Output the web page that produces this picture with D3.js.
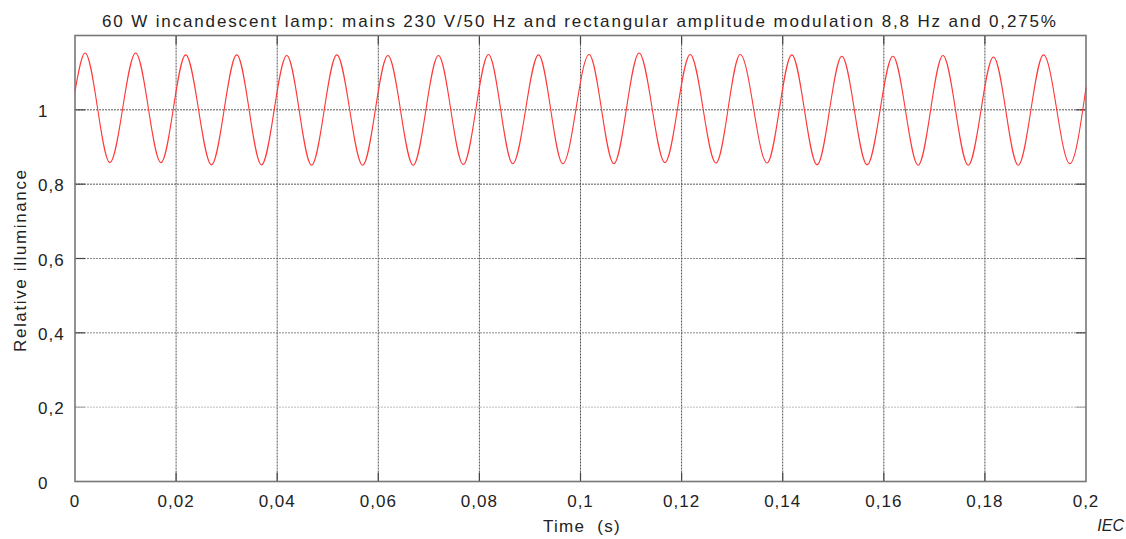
<!DOCTYPE html>
<html><head><meta charset="utf-8">
<script src="https://cdn.jsdelivr.net/npm/d3@7/dist/d3.min.js"></script>
<style>body{margin:0;background:#fff}</style>
</head><body><svg id="c" width="1126" height="539"></svg>
<script>
const titleText = "60 W incandescent lamp: mains 230 V/50 Hz and rectangular amplitude modulation 8,8 Hz and 0,275%";
const xLabel = "Time  (s)";
const yLabel = "Relative illuminance";
const xTicks = [0,0.02,0.04,0.06,0.08,0.1,0.12,0.14,0.16,0.18,0.2];
const xTickLabels = ["0","0,02","0,04","0,06","0,08","0,1","0,12","0,14","0,16","0,18","0,2"];
const yTicks = [0,0.2,0.4,0.6,0.8,1];
const yTickLabels = ["0","0,2","0,4","0,6","0,8","1"];
const peakTimes = [0.0020,0.0120,0.0219,0.0320,0.0419,0.0518,0.0619,0.0719,0.0818,0.0917,0.1017,0.1116,0.1217,0.1316,0.1418,0.1517,0.1618,0.1717,0.1817,0.1916];
const peakValues = [1.153,1.153,1.148,1.148,1.146,1.148,1.146,1.146,1.149,1.148,1.149,1.153,1.149,1.149,1.148,1.144,1.144,1.146,1.142,1.148];
const troughTimes = [0.0069,0.0170,0.0270,0.0369,0.0468,0.0569,0.0669,0.0768,0.0866,0.0965,0.1066,0.1167,0.1268,0.1369,0.1468,0.1567,0.1668,0.1767,0.1866,0.1968];
const troughValues = [0.858,0.858,0.852,0.852,0.851,0.851,0.851,0.853,0.855,0.855,0.855,0.858,0.857,0.857,0.852,0.852,0.851,0.851,0.851,0.855];
const startPoint = [0, 1.05];
const endPoint = [0.2, 1.06];

const svg = d3.select("#c");
const x = d3.scaleLinear().domain([0,0.2]).range([75,1086]);
const y = d3.scaleLinear().domain([0,1.2]).range([481.5,35.5]);
const font = "'Liberation Sans', Arial, sans-serif";

// grid
const hGridColor = v => v >= 0.8 ? "#555" : v >= 0.4 ? "#888" : "#bbb";
svg.append("g").selectAll("line").data(yTicks.filter(v=>v>0)).join("line")
  .attr("x1",x(0)).attr("x2",x(0.2)).attr("y1",d=>y(d)).attr("y2",d=>y(d))
  .attr("stroke",d=>hGridColor(d)).attr("stroke-width",1).attr("stroke-dasharray","2,1");
svg.append("g").selectAll("line").data(xTicks.filter(v=>v>0 && v<0.2)).join("line")
  .attr("y1",y(0)).attr("y2",y(1.2)).attr("x1",d=>x(d)).attr("x2",d=>x(d))
  .attr("stroke","#555").attr("stroke-width",1).attr("stroke-dasharray","2,1");

// inward ticks
const tk = svg.append("g").attr("stroke","#444").attr("stroke-width",1.2);
xTicks.filter(v=>v>0 && v<0.2).forEach(v=>{
  tk.append("line").attr("x1",x(v)).attr("x2",x(v)).attr("y1",y(0)).attr("y2",y(0)-9);
  tk.append("line").attr("x1",x(v)).attr("x2",x(v)).attr("y1",y(1.2)).attr("y2",y(1.2)+9);
});
yTicks.filter(v=>v>0).forEach(v=>{
  tk.append("line").attr("x1",x(0)).attr("x2",x(0)+10).attr("y1",y(v)).attr("y2",y(v)).attr("stroke", v>=0.4?"#444":"#aaa");
  tk.append("line").attr("x1",x(0.2)).attr("x2",x(0.2)-10).attr("y1",y(v)).attr("y2",y(v)).attr("stroke", v>=0.4?"#444":"#aaa");
});

// frame
svg.append("rect").attr("x",x(0)).attr("y",y(1.2)).attr("width",x(0.2)-x(0)).attr("height",y(0)-y(1.2))
  .attr("fill","none").attr("stroke","#777").attr("stroke-width",1.6);

// data line
const pts = [startPoint];
peakTimes.forEach((t,i)=>{ pts.push([t,peakValues[i]]); pts.push([troughTimes[i],troughValues[i]]); });
pts.push(endPoint);
pts.sort((a,b)=>a[0]-b[0]);
const line = d3.line().x(d=>x(d[0])).y(d=>y(d[1])).curve(d3.curveMonotoneX);
svg.append("path").datum(pts).attr("d",line).attr("fill","none")
  .attr("stroke","#ff3838").attr("stroke-width",1.1);

// tick labels
svg.append("g").selectAll("text").data(xTicks).join("text")
  .attr("x",d=>x(d)).attr("y",507).attr("text-anchor","middle")
  .attr("font-family",font).attr("font-size",17).attr("letter-spacing","1px").attr("fill","#222")
  .text((d,i)=>xTickLabels[i]);
svg.append("g").selectAll("text").data(yTicks).join("text")
  .attr("x",38).attr("y",d=>y(d)+7).attr("text-anchor","start")
  .attr("font-family",font).attr("font-size",17).attr("letter-spacing","1px").attr("fill","#222")
  .text((d,i)=>yTickLabels[i]);

// title
svg.append("text").attr("x",579).attr("y",27).attr("text-anchor","middle")
  .attr("font-family",font).attr("font-size",17).attr("fill","#222")
  .attr("textLength",954).attr("lengthAdjust","spacing").text(titleText);
// axis titles
svg.append("text").attr("x",582).attr("y",532).attr("text-anchor","middle")
  .attr("font-family",font).attr("font-size",17).attr("letter-spacing","1.3px").attr("fill","#222")
  .attr("xml:space","preserve").style("white-space","pre").text(xLabel);
svg.append("text").attr("transform","translate(26,261) rotate(-90)").attr("text-anchor","middle")
  .attr("font-family",font).attr("font-size",17).attr("fill","#222")
  .attr("textLength",182).attr("lengthAdjust","spacing").text(yLabel);
svg.append("text").attr("x",1124).attr("y",531).attr("text-anchor","end")
  .attr("font-family",font).attr("font-size",16).attr("font-style","italic").attr("fill","#222")
  .text("IEC");
</script></body></html>
